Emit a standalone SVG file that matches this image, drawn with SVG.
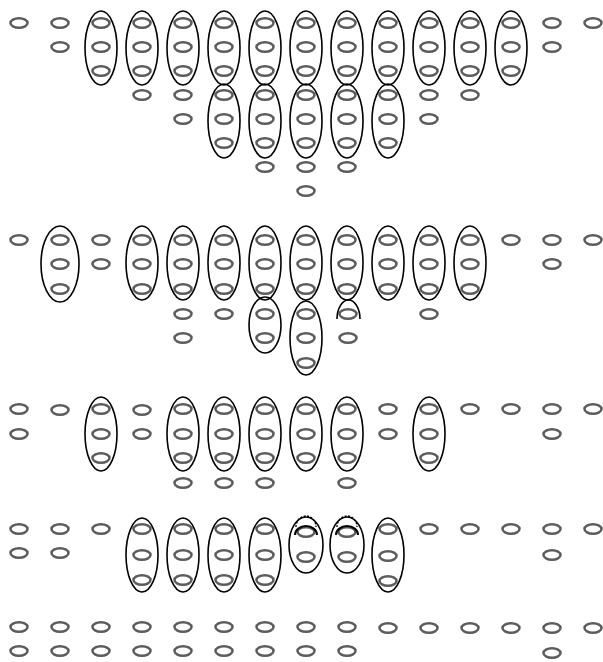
<svg xmlns="http://www.w3.org/2000/svg" width="603" height="662" viewBox="0 0 603 662">
<style>
.s{fill:none;stroke:#5c5c5c;stroke-width:2.5}
.b{fill:none;stroke:#000;stroke-width:1.6}
.d{fill:none;stroke:#000;stroke-width:1.4;stroke-dasharray:2 1.5}
</style>
<defs>
<ellipse id="s" class="s" cx="0" cy="0" rx="8.5" ry="4.8"/>
<ellipse id="b" class="b" cx="0" cy="0" rx="16" ry="37"/>
</defs>
<rect width="603" height="662" fill="#fff"/>

<g id="block1">
<g id="b1-small">
<use href="#s" x="19" y="23"/><use href="#s" x="60" y="23"/><use href="#s" x="101" y="23"/><use href="#s" x="142" y="23"/><use href="#s" x="183" y="23"/><use href="#s" x="224" y="23"/><use href="#s" x="265" y="23"/><use href="#s" x="306" y="23"/><use href="#s" x="347" y="23"/><use href="#s" x="388" y="23"/><use href="#s" x="429" y="23"/><use href="#s" x="470" y="23"/><use href="#s" x="511" y="23"/><use href="#s" x="552" y="23"/><use href="#s" x="593" y="23"/>
<use href="#s" x="60" y="47"/><use href="#s" x="101" y="47"/><use href="#s" x="142" y="47"/><use href="#s" x="183" y="47"/><use href="#s" x="224" y="47"/><use href="#s" x="265" y="47"/><use href="#s" x="306" y="47"/><use href="#s" x="347" y="47"/><use href="#s" x="388" y="47"/><use href="#s" x="429" y="47"/><use href="#s" x="470" y="47"/><use href="#s" x="511" y="47"/><use href="#s" x="552" y="47"/>
<use href="#s" x="101" y="71"/><use href="#s" x="142" y="71"/><use href="#s" x="183" y="71"/><use href="#s" x="224" y="71"/><use href="#s" x="265" y="71"/><use href="#s" x="306" y="71"/><use href="#s" x="347" y="71"/><use href="#s" x="388" y="71"/><use href="#s" x="429" y="71"/><use href="#s" x="470" y="71"/><use href="#s" x="511" y="71"/>
<use href="#s" x="142" y="95"/><use href="#s" x="183" y="95"/><use href="#s" x="224" y="95"/><use href="#s" x="265" y="95"/><use href="#s" x="306" y="95"/><use href="#s" x="347" y="95"/><use href="#s" x="388" y="95"/><use href="#s" x="429" y="95"/><use href="#s" x="470" y="95"/>
<use href="#s" x="183" y="119"/><use href="#s" x="224" y="119"/><use href="#s" x="265" y="119"/><use href="#s" x="306" y="119"/><use href="#s" x="347" y="119"/><use href="#s" x="388" y="119"/><use href="#s" x="429" y="119"/>
<use href="#s" x="224" y="143"/><use href="#s" x="265" y="143"/><use href="#s" x="306" y="143"/><use href="#s" x="347" y="143"/><use href="#s" x="388" y="143"/>
<use href="#s" x="265" y="167"/><use href="#s" x="306" y="167"/><use href="#s" x="347" y="167"/>
<use href="#s" x="306" y="191"/>
</g>
<g id="b1-groups">
<use href="#b" x="101" y="48"/><use href="#b" x="142" y="48"/><use href="#b" x="183" y="48"/><use href="#b" x="224" y="48"/><use href="#b" x="265" y="48"/><use href="#b" x="306" y="48"/><use href="#b" x="347" y="48"/><use href="#b" x="388" y="48"/><use href="#b" x="429" y="48"/><use href="#b" x="470" y="48"/><use href="#b" x="511" y="48"/>
<use href="#b" x="224" y="121"/><use href="#b" x="265" y="121"/><use href="#b" x="306" y="121"/><use href="#b" x="347" y="121"/><use href="#b" x="388" y="121"/>
</g>
</g>

<g id="block2">
<g id="b2-small">
<use href="#s" x="19" y="240"/><use href="#s" x="60" y="240"/><use href="#s" x="101" y="240"/><use href="#s" x="142" y="240"/><use href="#s" x="183" y="240"/><use href="#s" x="224" y="240"/><use href="#s" x="265" y="240"/><use href="#s" x="306" y="240"/><use href="#s" x="347" y="240"/><use href="#s" x="388" y="240"/><use href="#s" x="429" y="240"/><use href="#s" x="470" y="240"/><use href="#s" x="511" y="240"/><use href="#s" x="552" y="240"/><use href="#s" x="593" y="240"/>
<use href="#s" x="60" y="264"/><use href="#s" x="101" y="264"/><use href="#s" x="142" y="264"/><use href="#s" x="183" y="264"/><use href="#s" x="224" y="264"/><use href="#s" x="265" y="264"/><use href="#s" x="306" y="264"/><use href="#s" x="347" y="264"/><use href="#s" x="388" y="264"/><use href="#s" x="429" y="264"/><use href="#s" x="470" y="264"/><use href="#s" x="552" y="264"/>
<use href="#s" x="60" y="289"/><use href="#s" x="142" y="289"/><use href="#s" x="183" y="289"/><use href="#s" x="224" y="289"/><use href="#s" x="265" y="289"/><use href="#s" x="306" y="289"/><use href="#s" x="347" y="289"/><use href="#s" x="388" y="289"/><use href="#s" x="429" y="289"/><use href="#s" x="470" y="289"/>
<use href="#s" x="183" y="314"/><use href="#s" x="224" y="314"/><use href="#s" x="265" y="314"/><use href="#s" x="306" y="314"/><use href="#s" x="348" y="314"/><use href="#s" x="429" y="314"/>
<use href="#s" x="183" y="338"/><use href="#s" x="265" y="338"/><use href="#s" x="306" y="338"/><use href="#s" x="348" y="338"/>
<use href="#s" x="306" y="363"/>
</g>
<g id="b2-groups">
<ellipse class="b" cx="60" cy="264" rx="19" ry="38"/>
<use href="#b" x="142" y="263"/><use href="#b" x="183" y="263"/><use href="#b" x="224" y="263"/><use href="#b" x="265" y="263"/><use href="#b" x="306" y="263"/><use href="#b" x="347" y="263"/><use href="#b" x="388" y="263"/><use href="#b" x="429" y="263"/><use href="#b" x="470" y="263"/>
<ellipse class="b" cx="265" cy="325" rx="16" ry="28"/>
<ellipse class="b" cx="306" cy="338" rx="16" ry="37"/>
<path class="b" d="M337 319 A11.5 19 0 0 1 360 319"/>
</g>
</g>

<g id="block3">
<g id="b3-small">
<use href="#s" x="19" y="409"/><use href="#s" x="60" y="410"/><use href="#s" x="101" y="409"/><use href="#s" x="142" y="410"/><use href="#s" x="183" y="409"/><use href="#s" x="224" y="409"/><use href="#s" x="265" y="409"/><use href="#s" x="306" y="409"/><use href="#s" x="347" y="409"/><use href="#s" x="388" y="409"/><use href="#s" x="429" y="409"/><use href="#s" x="470" y="409"/><use href="#s" x="511" y="409"/><use href="#s" x="552" y="409"/><use href="#s" x="593" y="409"/>
<use href="#s" x="19" y="434"/><use href="#s" x="101" y="434"/><use href="#s" x="142" y="434"/><use href="#s" x="183" y="434"/><use href="#s" x="224" y="434"/><use href="#s" x="265" y="434"/><use href="#s" x="306" y="434"/><use href="#s" x="347" y="434"/><use href="#s" x="388" y="434"/><use href="#s" x="429" y="434"/><use href="#s" x="552" y="434"/>
<use href="#s" x="101" y="458"/><use href="#s" x="183" y="458"/><use href="#s" x="224" y="458"/><use href="#s" x="265" y="458"/><use href="#s" x="306" y="458"/><use href="#s" x="347" y="458"/><use href="#s" x="429" y="458"/>
<use href="#s" x="183" y="483"/><use href="#s" x="224" y="483"/><use href="#s" x="265" y="483"/><use href="#s" x="347" y="483"/>
</g>
<g id="b3-groups">
<use href="#b" x="101" y="434"/><use href="#b" x="183" y="434"/><use href="#b" x="224" y="434"/><use href="#b" x="265" y="434"/><use href="#b" x="306" y="434"/><use href="#b" x="347" y="434"/><use href="#b" x="429" y="434"/>
</g>
</g>

<g id="block4">
<g id="b4-small">
<use href="#s" x="19" y="529"/><use href="#s" x="60" y="529"/><use href="#s" x="101" y="529"/><use href="#s" x="142" y="529"/><use href="#s" x="183" y="529"/><use href="#s" x="224" y="529"/><use href="#s" x="265" y="529"/><use href="#s" x="306" y="532"/><use href="#s" x="347" y="532"/><use href="#s" x="388" y="529"/><use href="#s" x="429" y="529"/><use href="#s" x="470" y="529"/><use href="#s" x="511" y="529"/><use href="#s" x="552" y="529"/><use href="#s" x="593" y="529"/>
<use href="#s" x="19" y="553"/><use href="#s" x="60" y="553"/><use href="#s" x="142" y="555"/><use href="#s" x="183" y="555"/><use href="#s" x="224" y="555"/><use href="#s" x="265" y="555"/><use href="#s" x="306" y="557"/><use href="#s" x="347" y="557"/><use href="#s" x="388" y="556"/><use href="#s" x="552" y="555"/>
<use href="#s" x="142" y="580"/><use href="#s" x="183" y="580"/><use href="#s" x="224" y="580"/><use href="#s" x="265" y="580"/><use href="#s" x="388" y="581"/>
</g>
<g id="b4-groups">
<use href="#b" x="142" y="555"/><use href="#b" x="183" y="555"/><use href="#b" x="224" y="555"/><use href="#b" x="265" y="555"/><use href="#b" x="388" y="555"/>
<ellipse class="b" cx="306" cy="545" rx="17" ry="28"/>
<ellipse class="b" cx="347" cy="545" rx="17" ry="28"/>
<path class="d" d="M296 527 A10 11 0 0 1 316 527"/>
<path class="d" d="M337 527 A10 11 0 0 1 357 527"/>
<path class="b" style="stroke-width:2" d="M295 535 A11 9 0 0 1 317 535"/>
<path class="b" style="stroke-width:2" d="M336 535 A11 9 0 0 1 358 535"/>
</g>
</g>

<g id="block5">
<use href="#s" x="19" y="627"/><use href="#s" x="60" y="627"/><use href="#s" x="101" y="627"/><use href="#s" x="142" y="627"/><use href="#s" x="183" y="627"/><use href="#s" x="224" y="627"/><use href="#s" x="265" y="627"/><use href="#s" x="306" y="627"/><use href="#s" x="347" y="627"/><use href="#s" x="388" y="628"/><use href="#s" x="429" y="628"/><use href="#s" x="470" y="628"/><use href="#s" x="511" y="628"/><use href="#s" x="552" y="628"/><use href="#s" x="593" y="628"/>
<use href="#s" x="19" y="651"/><use href="#s" x="60" y="651"/><use href="#s" x="101" y="651"/><use href="#s" x="142" y="651"/><use href="#s" x="183" y="651"/><use href="#s" x="224" y="651"/><use href="#s" x="265" y="651"/><use href="#s" x="306" y="651"/><use href="#s" x="347" y="651"/><use href="#s" x="552" y="653"/>
</g>
</svg>
